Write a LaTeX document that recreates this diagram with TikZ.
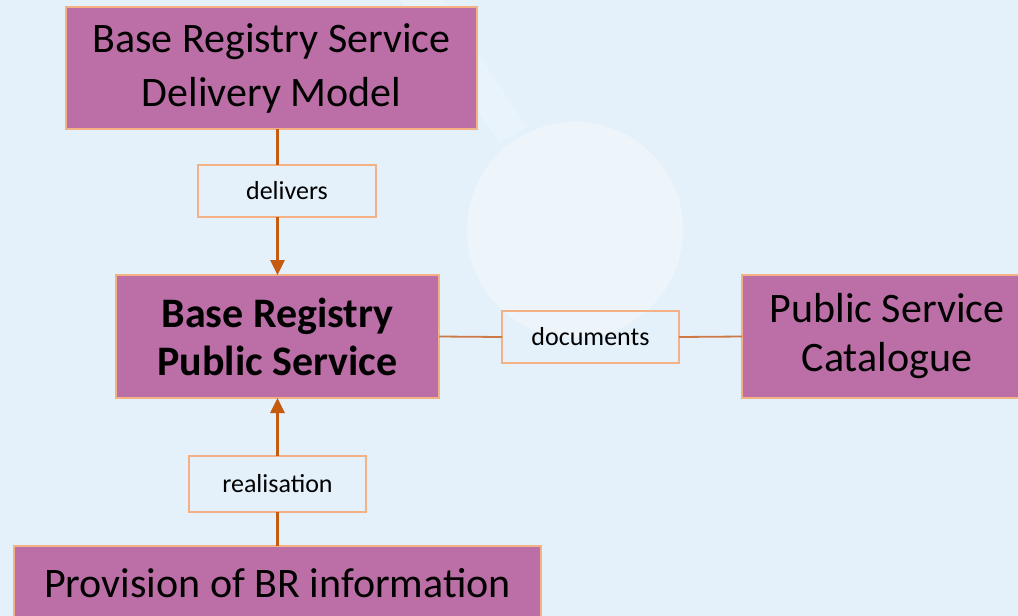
\documentclass[tikz,border=0pt]{standalone}
\usepackage{fontspec}
\setmainfont{Carlito}
\usepackage{tikz}
\usetikzlibrary{arrows.meta}
\definecolor{bgblue}{RGB}{228,241,250}
\definecolor{brfill}{RGB}{188,110,166}
\definecolor{brline}{RGB}{244,177,131}
\definecolor{brarrow}{RGB}{197,90,17}
\definecolor{brlink}{RGB}{205,120,70}
\tikzset{
  flow/.style={-{Triangle[length=7.5pt,width=7pt]}, line width=1.5pt, draw=brarrow},
  flowplain/.style={line width=1.5pt, draw=brarrow},
  thinlink/.style={line width=0.9pt, draw=brlink},
  box/.style={
    draw=brline,
    line width=1pt,
    fill=brfill,
    align=center,
    inner sep=0pt,
    outer sep=0pt,
    text=black,
    font=\fontsize{21pt}{27pt}\selectfont
  },
  tagbox/.style={
    draw=brline,
    line width=1pt,
    align=center,
    inner sep=0pt,
    outer sep=0pt,
    font=\fontsize{13pt}{15pt}\selectfont
  }
}

\begin{document}
\begin{tikzpicture}[x=0.5pt,y=-0.5pt]
      \useasboundingbox (0,0) rectangle (1018,616);
      \fill[bgblue] (0,0) rectangle (1018,616);
      \fill[white,opacity=0.2] (400,0) -- (443,0) -- (527,127) -- (500,143) -- cycle;
      \fill[white,opacity=0.35] (575,230) circle (54pt);

      \begin{scope}
      \clip (0,0) rectangle (1018,616);
      \node[box,minimum width=205.5pt,minimum height=61pt]
        (model) at (271.5,68) {Base Registry Service\\Delivery Model};
      \node[box,minimum width=161.5pt,minimum height=61.5pt,
        font=\fontsize{21pt}{24pt}\selectfont\bfseries]
        (service) at (277.5,336.5) {Base Registry\\Public Service};
      \node[box,minimum width=145pt,minimum height=61.5pt,
        font=\fontsize{21pt}{24.5pt}\selectfont]
        (catalogue) at (887,336.5) {Public Service\\Catalogue};
      \node[box,minimum width=263.5pt,minimum height=37pt]
        (provision) at (277.5,583) {Provision of BR information};
      \end{scope}

      \node[tagbox,minimum width=89pt,minimum height=26pt]
        (delivers) at (287,191) {delivers};
      \node[tagbox,minimum width=88.5pt,minimum height=28pt]
        (realisation) at (277.5,484) {realisation};
      \node[tagbox,minimum width=88.5pt,minimum height=26pt]
        (documents) at (590.5,337) {documents};

      \draw[flowplain] (model.south -| service.north) -- (delivers.north -| service.north);
      \draw[flow] (delivers.south -| service.north) -- (service.north);
      \draw[flowplain] (provision.north -| service.south) -- (realisation.south);
      \draw[flow] (realisation.north) -- (service.south);
      \draw[thinlink] (service.east) -- (documents.west);
      \draw[thinlink] (documents.east) -- (catalogue.west);
    \end{tikzpicture}
\end{document}
